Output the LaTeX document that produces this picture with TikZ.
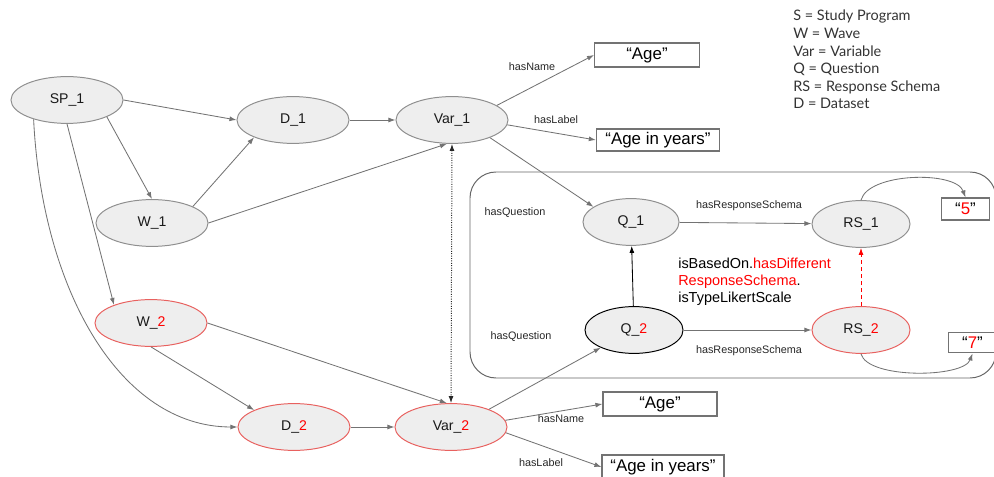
\documentclass[tikz,border=0pt]{standalone}
\usepackage{fontspec}
\setmainfont{Liberation Sans}
\newfontfamily\legendfont{Lato}
\usetikzlibrary{arrows.meta,shapes.geometric,positioning}

\definecolor{nodefill}{HTML}{EEEEEE}
\definecolor{linegray}{HTML}{737373}
\definecolor{newred}{HTML}{E8615F}

\tikzset{
    entity/.style={ellipse, draw=linegray!80, fill=nodefill, line width=0.7pt,
        minimum width=2.8cm, minimum height=1.17cm, inner sep=0pt,
        font=\fontsize{10}{12}\selectfont, text=black!90},
    newentity/.style={entity, draw=newred},
    literal/.style={rectangle, draw=linegray, fill=white, line width=0.8pt,
        inner sep=0pt, font=\fontsize{12}{14}\selectfont},
    rel/.style={inner sep=0pt, font=\fontsize{7.7}{9}\selectfont, text=black!85},
    link/.style={draw=linegray, line width=0.6pt, -{Latex[length=5pt,width=3.5pt]}},
}

\begin{document}
\begin{tikzpicture}[x=0.025cm,y=-0.025cm]
    \useasboundingbox (0,0) rectangle (994,477);

    % question block
    \draw[black!60, line width=0.7pt, rounded corners=0.65cm] (470,172) rectangle (996,378);

    % entities
    \node[entity] (sp1) at (67,100) {SP\_1};
    \node[entity] (d1) at (293,120) {D\_1};
    \node[entity] (var1) at (452,120) {Var\_1};
    \node[entity] (w1) at (152,223) {W\_1};
    \node[newentity] (w2) at (151,323) {W\_{\color{red}2}};
    \node[newentity] (d2) at (294,427) {D\_{\color{red}2}};
    \node[newentity] (var2) at (451,427) {Var\_{\color{red}2}};
    \node[entity, minimum width=2.4cm] (q1) at (631,222) {Q\_1};
    \node[entity, minimum width=2.45cm] (rs1) at (861,224) {RS\_1};
    \node[entity, draw=black, minimum width=2.45cm] (q2) at (634,330) {Q\_{\color{red}2}};
    \node[newentity, minimum width=2.45cm] (rs2) at (861,330) {RS\_{\color{red}2}};

    % literals
    \node[literal, minimum width=2.62cm, minimum height=0.6cm] (age1) at (647,55) {“Age”};
    \node[literal, minimum width=3.08cm, minimum height=0.55cm] (years1) at (658,140) {“Age in years”};
    \node[literal, minimum width=2.85cm, minimum height=0.6cm] (age2) at (660,404) {“Age”};
    \node[literal, minimum width=3.05cm, minimum height=0.6cm] (years2) at (663,467) {“Age in years”};
    \node[literal, minimum width=1.22cm, minimum height=0.55cm] (five) at (965.5,209) {“{\color{red}5}”};
    \node[literal, minimum width=1.22cm, minimum height=0.52cm] (seven) at (972.5,342.5) {“{\color{red}7}”};

    % relation labels
    \node[rel] (nm1) at (532,67) {hasName};
    \node[rel] (lb1) at (556,120) {hasLabel};
    \node[rel] (hq1) at (515,213) {hasQuestion};
    \node[rel] (hr1) at (749,206) {hasResponseSchema};
    \node[rel] (hq2) at (521,337) {hasQuestion};
    \node[rel] (hr2) at (749,351) {hasResponseSchema};
    \node[rel] (nm2) at (561,419) {hasName};
    \node[rel] (lb2) at (541,463) {hasLabel};

    \node[anchor=north west, align=left, inner sep=0pt, font=\fontsize{10.3}{12}\selectfont]
        (based) at (678,258) {isBasedOn.{\color{red}hasDifferent}\\{\color{red}ResponseSchema}.\\isTypeLikertScale};

    % legend
    \node[anchor=north west, align=left, inner sep=0pt, text=black!80,
        font=\legendfont\fontsize{10.3}{12.5}\selectfont] (legend) at (793,10)
        {S = Study Program\\W = Wave\\Var = Variable\\Q = Question\\RS = Response Schema\\D = Dataset};

    % edges
    \draw[link] (sp1.east) -- (d1.west);
    \draw[link] (sp1.-23) -- (w1.north);
    \draw[link] (w1.22) -- (d1.204);
    \draw[link] (w1.east) -- (var1.-102);
    \draw[link] (d1) -- (var1);
    \draw[link] (sp1.south) -- (w2.154);
    \draw[link] (sp1.210) .. controls (42,290) and (120,427) .. (d2.west);
    \draw[link] (w2.south) -- (d2.157);
    \draw[link] (w2.east) -- (var2.100);
    \draw[link] (d2) -- (var2);
    \draw[link] (var1.18) -- (age1.west);
    \draw[link] (var1.-5) -- (years1.west);
    \draw[link] (var1.-25) -- (q1.158);
    \draw[link] (var2.25) -- (q2.208);
    \draw[link] (var2.7) -- (age2.west);
    \draw[link] (var2.-6) -- (years2.west);
    \draw[link] (q1) -- (rs1);
    \draw[link] (q2) -- (rs2);
    \draw[link, draw=black] (q2) -- (q1);
    \draw[link, draw=red, densely dashed] (rs2) -- (rs1);
    \draw[link] (rs1.north) to[out=75,in=110,looseness=0.7] (five.north);
    \draw[link] (rs2.south) to[out=-75,in=-110,looseness=0.6] (seven.south);
    \draw[black!85, densely dotted, line width=0.7pt,
        {Latex[length=5pt,width=3.5pt]}-{Latex[length=5pt,width=3.5pt]}] (var1.south) -- (var2.north);
\end{tikzpicture}
\end{document}
